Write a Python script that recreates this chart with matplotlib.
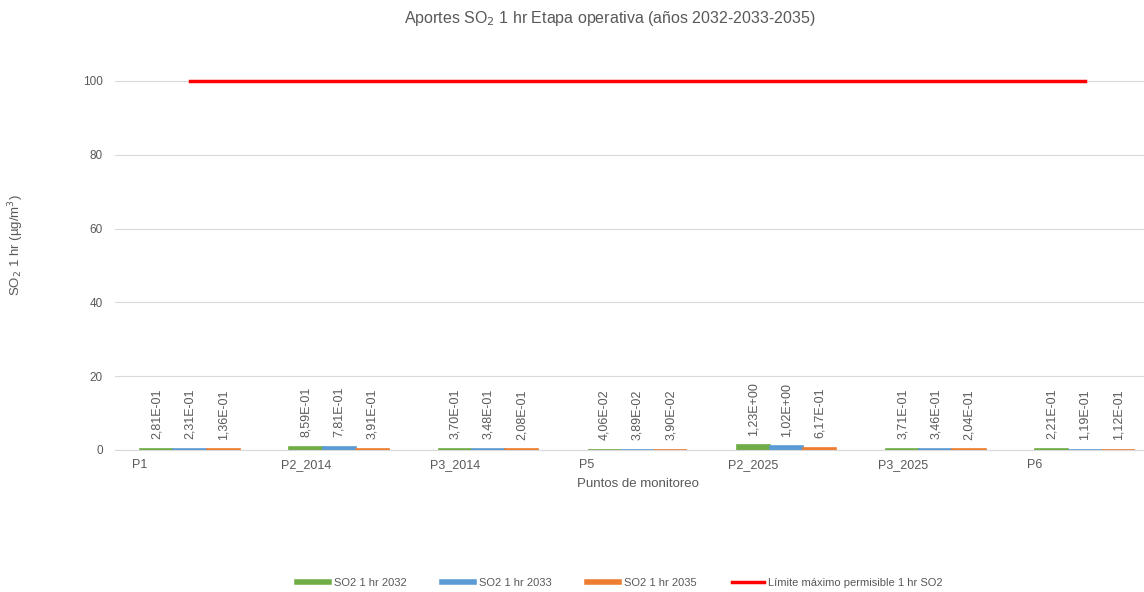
import numpy as np
import matplotlib.pyplot as plt
from matplotlib import rcParams
from matplotlib.lines import Line2D

rcParams['font.family'] = ['Liberation Sans', 'DejaVu Sans']

puntos = ['P1', 'P2_2014', 'P3_2014', 'P5', 'P2_2025', 'P3_2025', 'P6']
so2_2032 = [0.281, 0.859, 0.370, 0.0406, 1.23, 0.371, 0.221]
so2_2033 = [0.231, 0.781, 0.348, 0.0389, 1.02, 0.346, 0.119]
so2_2035 = [0.136, 0.391, 0.208, 0.0390, 0.617, 0.204, 0.112]
limite = [100, 100, 100, 100, 100, 100, 100]

series = [('SO2 1 hr 2032', so2_2032, '#70AD47'),
          ('SO2 1 hr 2033', so2_2033, '#5B9BD5'),
          ('SO2 1 hr 2035', so2_2035, '#ED7D31')]

gris = '#595959'

fig = plt.figure(figsize=(11.44, 5.92), dpi=100)
# plot area runs past the right edge on purpose
ax = fig.add_axes([115.4 / 1144, 142 / 592, 1044.2 / 1144, 406 / 592])

x = np.arange(len(puntos))
w = 0.222
for i, (nombre, vals, color) in enumerate(series):
    pos = x + (i - 1) * w
    # thin edge keeps the very small bars visible
    ax.bar(pos, vals, width=w, color=color, edgecolor=color, lw=1.2, zorder=3)
    for xp, v in zip(pos, vals):
        txt = f'{v:.2E}'.replace('.', ',')
        ax.annotate(txt, (xp, v), xytext=(0, 7), textcoords='offset points',
                    rotation=90, ha='center', va='bottom', fontsize=9, color=gris)

ax.plot(x, limite, color='#FF0000', lw=2.5, zorder=4)

ax.set_xlim(-0.5, len(puntos) - 0.5)
ax.set_ylim(0, 110)
ax.set_yticks(np.arange(0, 101, 20))
ax.tick_params(axis='y', length=0, labelsize=8.5, labelcolor=gris, pad=9)
ax.set_xticks([])
ax.grid(axis='y', color='#D9D9D9', lw=0.8, zorder=0)
for s in ['top', 'right', 'left']:
    ax.spines[s].set_visible(False)
ax.spines['bottom'].set_color('#D9D9D9')

for xi, p in zip(x, puntos):
    ax.text(xi - 0.39, -4, p, ha='left', va='center', fontsize=9, color=gris)

fig.text(638 / 1144, 1 - 484 / 592, 'Puntos de monitoreo', ha='center', va='center',
         fontsize=9.5, color=gris)
fig.text(16 / 1144, 1 - 245 / 592, 'SO$_2$ 1 hr (µg/m$^3$)', rotation=90,
         ha='center', va='center', fontsize=9.5, color=gris)
fig.text(610 / 1144, 1 - 18 / 592, 'Aportes SO$_2$ 1 hr Etapa operativa (años 2032-2033-2035)',
         ha='center', va='center', fontsize=11.5, color=gris)

handles = [Line2D([], [], color=c, lw=4) for _, _, c in series]
handles.append(Line2D([], [], color='#FF0000', lw=2.5))
labels = [n for n, _, _ in series] + ['Límite máximo permisible 1 hr SO2']
fig.legend(handles, labels, loc='center', bbox_to_anchor=(620 / 1144, 1 - 583 / 592),
           ncol=4, frameon=False, fontsize=8, labelcolor=gris, handlelength=2.9,
           handletextpad=0.4, columnspacing=3.2)

fig.savefig('out.png', dpi=100)
